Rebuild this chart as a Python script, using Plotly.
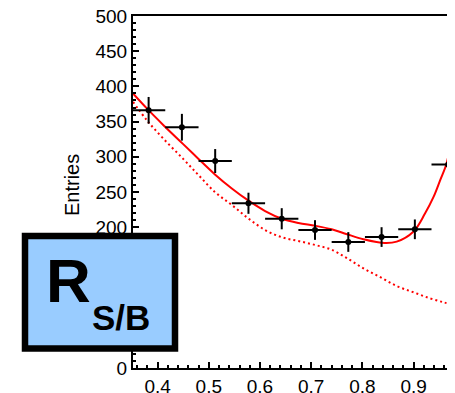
import plotly.graph_objects as go

# ---- data ----
bin_centers = [0.3825, 0.4475, 0.5125, 0.5775, 0.6425, 0.7075, 0.7725, 0.8375, 0.9025, 0.9675]
bin_half_width = [0.0325] * 10
entries = [366, 342, 294, 234, 212, 196, 179, 186, 197, 289]
entries_err = [19, 19, 17, 15, 15, 14, 14, 14, 14, 16]

fit_x = [0.352, 0.38, 0.41, 0.45, 0.48, 0.512, 0.545, 0.577, 0.61, 0.643, 0.675, 0.708,
         0.74, 0.77, 0.802, 0.844, 0.867, 0.9, 0.922, 0.939, 0.952, 0.965, 0.975, 0.982]
fit_y = [390, 368, 346, 318, 297, 275, 255, 238, 223, 212, 206, 202,
         197, 190, 183, 177.5, 179.5, 194, 219, 243, 267, 292, 335, 385]

bkg_x = [0.352, 0.379, 0.411, 0.45, 0.48, 0.512, 0.545, 0.577, 0.61, 0.643, 0.675, 0.708,
         0.74, 0.77, 0.802, 0.835, 0.867, 0.9, 0.932, 0.96, 0.982]
bkg_y = [378, 352, 326, 297, 274, 250, 231.5, 212.6, 196, 185.6, 180.4, 174.7,
         168, 156, 141.6, 129, 116.5, 107.5, 99, 93, 89]

x_ticks = [0.4, 0.5, 0.6, 0.7, 0.8, 0.9]
x_tick_text = ["0.4", "0.5", "0.6", "0.7", "0.8", "0.9"]
y_ticks = [0, 50, 100, 150, 200, 250, 300, 350, 400, 450, 500]
y_tick_text = [str(v) for v in y_ticks]

# ---- layout geometry (pixels); the page body adds an 8px offset ----
OFF = 8
W, H = 455 - OFF, 393 - OFF
L, T = 133 - OFF, 16 - OFF
PW, PH = 322, 352
R = W - L - PW
B = H - T - PH

def px(xs):  # screen pixel -> paper x
    return (xs - 133) / PW

def py(ys):  # screen pixel -> paper y
    return (368 - ys) / PH

FONT = "Liberation Sans, Arial, sans-serif"

fig = go.Figure()

fig.add_trace(go.Scatter(
    x=bkg_x, y=bkg_y, mode="lines",
    line=dict(color="#ff0000", width=2, dash="2px,3px", shape="spline", smoothing=1.0),
    hoverinfo="skip", showlegend=False))

fig.add_trace(go.Scatter(
    x=fit_x, y=fit_y, mode="lines",
    line=dict(color="#ff0000", width=2, shape="spline", smoothing=1.0),
    hoverinfo="skip", showlegend=False))

fig.add_trace(go.Scatter(
    x=bin_centers, y=entries, mode="markers",
    marker=dict(color="black", size=6),
    error_y=dict(type="data", array=entries_err, color="black", thickness=2, width=0),
    error_x=dict(type="data", array=bin_half_width, color="black", thickness=2, width=0),
    showlegend=False))

fig.update_layout(
    width=W, height=H,
    margin=dict(l=L, r=R, t=T, b=B, pad=0, autoexpand=False),
    paper_bgcolor="white", plot_bgcolor="white",
    font=dict(family=FONT, size=19, color="black"),
    xaxis=dict(
        range=[0.352, 0.352 + PW / 512.0],
        tickvals=x_ticks, ticktext=x_tick_text,
        ticks="inside", ticklen=6, tickwidth=1.5, tickcolor="black",
        minor=dict(dtick=0.02, tick0=0.4, ticks="inside", ticklen=3, tickwidth=1.5, tickcolor="black"),
        showline=True, linecolor="black", linewidth=2, mirror=True,
        showgrid=False, zeroline=False, automargin=False,
        ticklabeloverflow="allow",
        tickfont=dict(family=FONT, size=19),
    ),
    yaxis=dict(
        range=[0, 500],
        tickvals=y_ticks, ticktext=y_tick_text,
        ticks="inside", ticklen=6, tickwidth=1.5, tickcolor="black",
        minor=dict(dtick=10, tick0=0, ticks="inside", ticklen=3, tickwidth=1.5, tickcolor="black"),
        showline=True, linecolor="black", linewidth=2, mirror=False,
        showgrid=False, zeroline=False, automargin=False,
        ticklabeloverflow="allow",
        tickfont=dict(family=FONT, size=19),
    ),
    shapes=[dict(
        type="rect", xref="paper", yref="paper", layer="above",
        x0=px(25), x1=px(175), y0=py(348.5), y1=py(236),
        fillcolor="#99ccff", line=dict(color="black", width=6.5),
    )],
    annotations=[
        dict(text="Entries", xref="paper", yref="paper", x=px(72), y=py(185),
             xanchor="center", yanchor="middle", textangle=-90, showarrow=False,
             font=dict(family=FONT, size=20, color="black")),
        dict(text="<b>R</b>", xref="paper", yref="paper", x=px(68.5), y=py(280.5),
             xanchor="center", yanchor="middle", showarrow=False,
             font=dict(family=FONT, size=62, color="black")),
        dict(text="<b>S/B</b>", xref="paper", yref="paper", x=px(121), y=py(317.5),
             xanchor="center", yanchor="middle", showarrow=False,
             font=dict(family=FONT, size=35, color="black")),
    ],
)

fig.write_html("out.html")
